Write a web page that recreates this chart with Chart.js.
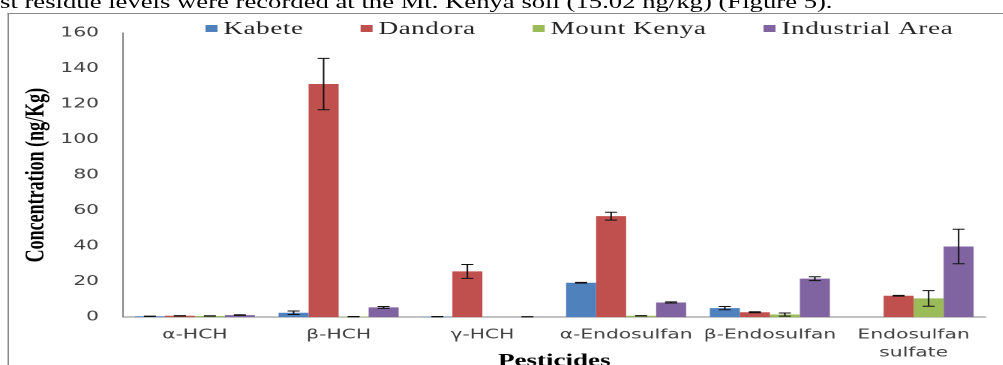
<!DOCTYPE html>
<html>
<head>
<meta charset="utf-8">
<script src="https://cdn.jsdelivr.net/npm/chart.js@4.4.0/dist/chart.umd.min.js"></script>
<style>
  html, body { margin: 0; padding: 0; background: #fff; }
  body { width: 1003px; height: 365px; overflow: hidden; position: relative; }
  /* the page is laid out narrow and stretched sideways */
  #page { position: absolute; left: 0; top: 0; width: 669px; height: 365px; transform: scaleX(1.5); transform-origin: 0 0; }
  #line { position: absolute; left: 0; top: -6px; font: 17.8px 'Liberation Serif', serif; line-height: 17px; white-space: nowrap; color: #000; }
  #frame { position: absolute; left: 5px; top: 13px; width: 700px; height: 400px; border-top: 1.5px solid #8a8a8a; border-left: 1.5px solid #8a8a8a; }
  #wrap { position: absolute; left: 7px; top: 9px; width: 662px; height: 366px; }
</style>
</head>
<body>
<div id="page">
  <div id="line">st residue levels were recorded at the Mt. Kenya soil (15.02 ng/kg) (Figure 5).</div>
  <div id="frame"></div>
  <div id="wrap"><canvas id="residues"></canvas></div>
</div>
<script>
let pesticides = ['α-HCH', 'β-HCH', 'γ-HCH', 'α-Endosulfan', 'β-Endosulfan', ['Endosulfan', 'sulfate']]
let sites = ['Kabete', 'Dandora', 'Mount Kenya', 'Industrial Area']

// mean residue per site, ng/Kg
let kabete = [0.5, 2.5, 0.3, 19.4, 5.1, 0]
let dandora = [0.8, 131.3, 25.8, 56.9, 2.8, 12.1]
let mountKenya = [0.7, 0.3, 0, 0.8, 1.5, 10.6]
let industrialArea = [1.2, 5.5, 0.2, 8.3, 21.7, 39.8]

// standard errors
let kabeteErr = [0.1, 1.0, 0.1, 0.2, 0.9, 0]
let dandoraErr = [0.1, 14.5, 3.9, 2.2, 0.3, 0.2]
let mountKenyaErr = [0.1, 0.1, 0, 0.1, 0.9, 4.4]
let industrialAreaErr = [0.2, 0.5, 0.1, 0.3, 1.1, 9.7]

let siteColors = ['#4F81BD', '#C0504D', '#9BBB59', '#8064A2']

// draw the error whiskers on top of every bar
const errorBars = {
  id: 'errorBars',
  afterDatasetsDraw(chart) {
    let ctx = chart.ctx
    let yScale = chart.scales.y
    ctx.save()
    ctx.strokeStyle = '#111'
    ctx.lineWidth = 1
    chart.data.datasets.forEach((ds, i) => {
      let meta = chart.getDatasetMeta(i)
      meta.data.forEach((bar, j) => {
        let err = ds.errors[j]
        if (!err) return
        let top = yScale.getPixelForValue(ds.data[j] + err)
        let bottom = yScale.getPixelForValue(Math.max(ds.data[j] - err, 0))
        ctx.beginPath()
        ctx.moveTo(bar.x, top)
        ctx.lineTo(bar.x, bottom)
        ctx.moveTo(bar.x - 4, top)
        ctx.lineTo(bar.x + 4, top)
        ctx.moveTo(bar.x - 4, bottom)
        ctx.lineTo(bar.x + 4, bottom)
        ctx.stroke()
      })
    })
    ctx.restore()
  },
}

// legend row laid over the top of the plot
const siteLegend = {
  id: 'siteLegend',
  afterDraw(chart) {
    let ctx = chart.ctx
    ctx.save()
    ctx.font = "18px 'Liberation Serif', serif"
    ctx.letterSpacing = '0.4px'
    ctx.textBaseline = 'middle'
    let x = chart.chartArea.left + 55
    let y = 19.5
    chart.data.datasets.forEach((ds) => {
      ctx.fillStyle = ds.backgroundColor
      ctx.fillRect(x, y - 3.5, 8, 7)
      ctx.fillStyle = '#222'
      ctx.fillText(ds.label, x + 12, y + 1)
      x += 12 + ctx.measureText(ds.label).width + 38
    })
    ctx.restore()
  },
}

let seriesValues = [kabete, dandora, mountKenya, industrialArea]
let seriesErrors = [kabeteErr, dandoraErr, mountKenyaErr, industrialAreaErr]

new Chart(document.getElementById('residues'), {
  type: 'bar',
  data: {
    labels: pesticides,
    datasets: sites.map((site, i) => ({
      label: site,
      data: seriesValues[i],
      errors: seriesErrors[i],
      backgroundColor: siteColors[i],
      borderWidth: 0,
      barPercentage: 1,
      categoryPercentage: 0.835,
    })),
  },
  options: {
    responsive: true,
    maintainAspectRatio: false,
    animation: false,
    devicePixelRatio: 2,
    layout: { padding: { left: 0, right: 12, top: 11, bottom: 0 } },
    plugins: {
      legend: { display: false },
      tooltip: { enabled: false },
    },
    scales: {
      x: {
        grid: { display: false, drawTicks: false },
        border: { color: '#868686', width: 1 },
        ticks: {
          color: '#404040',
          padding: 9,
          maxRotation: 0,
          autoSkip: false,
          font: { family: "'DejaVu Sans', sans-serif", size: 13.5, lineHeight: 1.33 },
        },
        title: {
          display: true,
          text: 'Pesticides',
          color: '#000',
          padding: { top: 0, bottom: 3 },
          font: { family: "'Liberation Serif', serif", size: 18, weight: 'bold' },
        },
        afterFit(scale) {
          scale.height = 57.8
        },
      },
      y: {
        min: 0,
        max: 160,
        ticks: {
          stepSize: 20,
          color: '#404040',
          padding: 16,
          font: { family: "'DejaVu Sans', sans-serif", size: 13.5 },
        },
        grid: { display: false, drawTicks: false },
        border: { color: '#868686', width: 1 },
        title: {
          display: true,
          text: 'Concentration (ng/Kg)',
          color: '#000',
          padding: { top: 6.5, bottom: 0 },
          font: { family: "'Liberation Serif', serif", size: 18, weight: 'bold' },
        },
        afterFit(scale) {
          scale.width = 75
        },
      },
    },
  },
  plugins: [errorBars, siteLegend],
})
</script>
</body>
</html>
